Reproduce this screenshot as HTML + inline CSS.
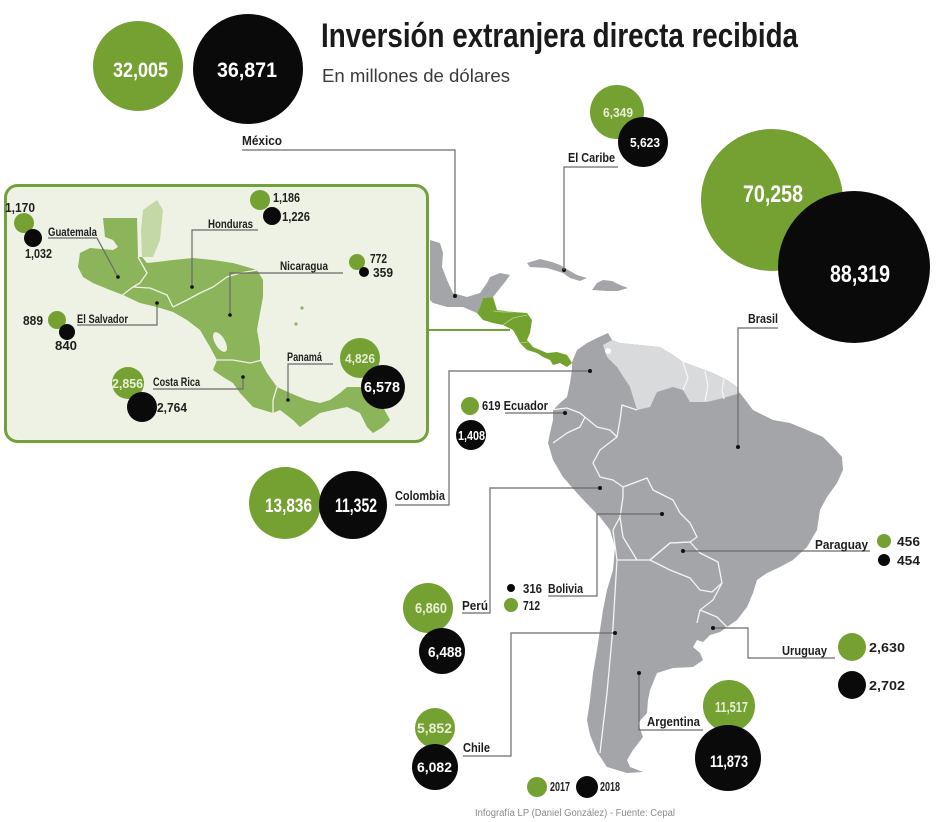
<!DOCTYPE html>
<html><head><meta charset="utf-8">
<style>
html,body{margin:0;padding:0;background:#fff;}
svg{display:block;}
.c{font-family:"Liberation Sans Narrow","Liberation Sans",sans-serif;font-weight:bold;}
.lb{font-family:"Liberation Sans Narrow","Liberation Sans",sans-serif;font-weight:bold;fill:#1e1e1e;font-size:13px;}
.ls{font-family:"Liberation Sans Narrow","Liberation Sans",sans-serif;font-weight:bold;fill:#1e1e1e;font-size:11.5px;}
.w{fill:#fff;}
.ld{fill:none;stroke:#6a6a6a;stroke-width:1.2;}
.bd{fill:none;stroke:#f4f4f4;stroke-width:1.3;stroke-linejoin:round;}
.ibd{fill:none;stroke:#eef2e4;stroke-width:1.3;stroke-linejoin:round;}
</style></head>
<body>
<svg width="950" height="822" viewBox="0 0 950 822" xmlns="http://www.w3.org/2000/svg">
<rect width="950" height="822" fill="#fff"/>

<!-- Title -->
<text class="c" x="321" y="47" font-size="34" fill="#1a1a1a" textLength="477" lengthAdjust="spacingAndGlyphs">Inversión extranjera directa recibida</text>
<text x="322" y="82" font-family="Liberation Sans, sans-serif" font-size="18" fill="#3a3a3a" textLength="188" lengthAdjust="spacingAndGlyphs">En millones de dólares</text>

<!-- Mexico circles -->
<circle cx="138" cy="66" r="45" fill="#75a133"/>
<circle cx="248" cy="69" r="55" fill="#0a0a0a"/>
<text class="c w" x="113" y="77" font-size="21" textLength="55" lengthAdjust="spacingAndGlyphs">32,005</text>
<text class="c w" x="217" y="77" font-size="21" textLength="60" lengthAdjust="spacingAndGlyphs">36,871</text>

<!-- Mexico label & leader -->
<text class="lb" x="242" y="145" textLength="40" lengthAdjust="spacingAndGlyphs">México</text>
<polyline class="ld" points="242,150 455,150 455,296"/>

<!-- Mexico shape -->
<polygon fill="#a4a5a9" points="430,240 440,243 443,253 442,267 447,280 453,293 467,297 480,293 487,283 490,277 500,273 510,275 505,282 497,292 493,297 483,298 480,307 477,313 463,307 447,307 433,303 430,300"/>
<circle cx="455" cy="296" r="2" fill="#111"/>

<!-- Caribbean islands -->
<polygon fill="#a4a5a9" points="527,263 540,259 552,262 560,265 570,271 577,275 587,278 580,281 570,278 563,273 547,268 530,267"/>
<polygon fill="#a4a5a9" points="597,283 603,280 612,281 620,285 628,288 618,291 607,291 592,290"/>
<circle cx="564" cy="270" r="2" fill="#111"/>
<polyline class="ld" points="564,270 564,167 618,167"/>
<text class="lb" x="568" y="162" textLength="47" lengthAdjust="spacingAndGlyphs">El Caribe</text>
<circle cx="617" cy="112" r="27" fill="#75a133"/>
<circle cx="643" cy="142" r="25" fill="#0a0a0a"/>
<text class="c" x="603" y="117" font-size="13" fill="#e6efd6" textLength="30" lengthAdjust="spacingAndGlyphs">6,349</text>
<text class="c w" x="630" y="147" font-size="13" textLength="30" lengthAdjust="spacingAndGlyphs">5,623</text>

<!-- Central America small (main map) -->
<polygon fill="#74a22f" points="483,298 493,297 497,310 513,312 527,313 532,320 530,333 527,340 533,347 547,353 557,352 567,355 572,363 567,367 560,363 553,365 550,360 543,357 537,353 527,350 520,343 517,337 513,330 503,325 493,323 483,320 477,313 480,307"/>
<polyline fill="none" stroke="#b9d396" stroke-width="0.8" points="493,311 503,312 513,312"/>
<polyline fill="none" stroke="#b9d396" stroke-width="0.8" points="503,325 513,318 527,315"/>
<polyline fill="none" stroke="#b9d396" stroke-width="0.8" points="520,343 528,342"/>

<!-- South America -->
<polygon fill="#a4a5a9" points="572,362 577,350 587,343 597,338 608,333 612,340 620,343 640,345 660,347 673,355 683,362 697,367 713,373 727,380 737,387 740,393 753,410 773,420 790,423 807,430 823,437 833,447 842,457 843,470 837,483 827,497 820,510 817,530 807,547 793,560 780,567 767,573 757,580 753,593 747,607 737,620 727,627 720,632 710,635 703,642 697,640 693,647 700,653 703,660 693,667 673,668 657,673 650,690 648,700 647,713 638,723 643,737 633,750 627,760 630,767 643,772 627,773 607,767 597,752 590,735 587,720 590,700 593,673 597,650 600,630 603,610 607,590 613,570 615,547 610,530 600,517 590,507 577,493 563,477 553,460 548,443 550,433 553,420 553,410 560,403 567,397 570,383 572,370"/>
<!-- Venezuela & Guianas -->
<polygon fill="#d9dadc" points="603,345 612,340 620,343 640,345 660,347 673,355 683,362 697,367 713,373 727,380 737,387 740,393 727,397 707,402 690,402 683,390 673,387 657,392 650,407 637,410 630,387 617,367 607,357"/>
<circle cx="608" cy="351" r="3" fill="#fff"/>
<g class="bd">
<polyline points="683,362 688,378 683,390"/>
<polyline points="705,371 708,386 705,401"/>
<polyline points="724,379 722,390 724,399"/>
<polyline points="637,410 622,405 620,420 617,437"/>
<polyline points="550,410 567,408 580,413 597,427 610,430 617,437"/>
<polyline points="553,443 567,433 580,427 585,417"/>
<polyline points="617,437 600,450 593,463 600,477 613,480 623,487"/>
<polyline points="623,487 647,478 653,490 673,500 680,513 690,523 697,537 690,542 670,543 650,560 637,560 623,537 620,517 623,497 623,487"/>
<polyline points="620,517 613,530"/>
<polyline points="650,560 670,543 690,542 700,553 718,562 722,583 712,592 700,590 690,578 670,570 650,560"/>
<polyline points="722,583 713,600 700,610 697,623"/>
<polyline points="700,610 717,617 727,627"/>
<polyline points="613,530 617,560 615,593 613,627 610,660 607,693 603,727 600,753"/>
<polyline points="637,560 617,560"/>
</g>

<!-- Inset box -->
<rect x="5.5" y="185.5" width="422" height="256" rx="12" ry="12" fill="#eef2e4" stroke="#72a03a" stroke-width="3"/>
<line x1="428" y1="330" x2="510" y2="330" stroke="#72a03a" stroke-width="2"/>

<!-- Inset map -->
<polygon fill="#8cb45a" points="103,218 137,218 138,257 142,257 147,263 157,262 173,260 193,258 213,260 233,263 247,267 257,270 263,280 263,297 260,313 257,330 260,347 260,360 267,373 277,387 290,393 307,400 320,403 330,400 340,393 347,387 360,387 373,393 383,407 390,420 383,427 373,433 367,427 360,413 347,407 333,410 320,413 310,420 300,427 293,420 280,410 273,413 263,410 253,407 240,393 233,383 223,377 213,370 217,360 210,347 200,330 187,320 173,312 157,307 140,303 123,295 110,290 93,283 83,277 78,267 80,253 90,248 113,250 118,247 113,240 105,237"/>
<polygon fill="#c3d8a4" points="143,210 157,200 163,210 160,240 153,257 142,257 141,230"/>
<ellipse cx="220" cy="342" rx="5" ry="11" transform="rotate(-30 220 342)" fill="#eef2e4"/>
<circle cx="302" cy="308" r="1.6" fill="#8cb45a"/>
<circle cx="296" cy="324" r="1.6" fill="#8cb45a"/>
<g class="ibd">
<polyline points="138,257 147,273 140,283 133,287 120,297"/>
<polyline points="133,287 150,288 167,295 173,307"/>
<polyline points="173,307 187,300 200,293 213,287 227,277 240,273 257,270"/>
<polyline points="217,360 233,360 250,363 262,360"/>
<polyline points="273,413 273,400 277,387"/>
</g>

<!-- Inset leaders -->
<polyline class="ld" points="48,238 97,238 118,277"/>
<circle cx="118" cy="277" r="1.8" fill="#111"/>
<polyline class="ld" points="258,230 192,230 192,287"/>
<circle cx="192" cy="287" r="1.8" fill="#111"/>
<polyline class="ld" points="343,273 230,273 230,315"/>
<circle cx="230" cy="315" r="1.8" fill="#111"/>
<polyline class="ld" points="77,325 157,325 157,303"/>
<circle cx="157" cy="303" r="1.8" fill="#111"/>
<polyline class="ld" points="153,389 243,389 243,377"/>
<circle cx="243" cy="377" r="1.8" fill="#111"/>
<polyline class="ld" points="333,364 288,364 288,400"/>
<circle cx="288" cy="400" r="1.8" fill="#111"/>

<!-- Inset labels -->
<text class="ls" x="48" y="236" textLength="49" lengthAdjust="spacingAndGlyphs">Guatemala</text>
<text class="ls" x="208" y="228" textLength="45" lengthAdjust="spacingAndGlyphs">Honduras</text>
<text class="ls" x="280" y="270" textLength="48" lengthAdjust="spacingAndGlyphs">Nicaragua</text>
<text class="ls" x="77" y="323" textLength="51" lengthAdjust="spacingAndGlyphs">El Salvador</text>
<text class="ls" x="153" y="386" textLength="47" lengthAdjust="spacingAndGlyphs">Costa Rica</text>
<text class="ls" x="287" y="361" textLength="35" lengthAdjust="spacingAndGlyphs">Panamá</text>

<!-- Inset circles -->
<circle cx="24" cy="223" r="10" fill="#75a133"/>
<circle cx="33" cy="238" r="9" fill="#0a0a0a"/>
<text class="lb" x="5" y="212" textLength="30" lengthAdjust="spacingAndGlyphs">1,170</text>
<text class="lb" x="25" y="258" textLength="27" lengthAdjust="spacingAndGlyphs">1,032</text>

<circle cx="260" cy="200" r="10" fill="#75a133"/>
<circle cx="272" cy="216" r="9" fill="#0a0a0a"/>
<text class="lb" x="273" y="202" textLength="27" lengthAdjust="spacingAndGlyphs">1,186</text>
<text class="lb" x="282" y="221" textLength="28" lengthAdjust="spacingAndGlyphs">1,226</text>

<circle cx="357" cy="262" r="8" fill="#75a133"/>
<circle cx="364" cy="272" r="5" fill="#0a0a0a"/>
<text class="lb" x="370" y="263" textLength="17" lengthAdjust="spacingAndGlyphs">772</text>
<text class="lb" x="373" y="277" textLength="20" lengthAdjust="spacingAndGlyphs">359</text>

<circle cx="57" cy="320" r="9" fill="#75a133"/>
<circle cx="67" cy="332" r="8" fill="#0a0a0a"/>
<text class="lb" x="23" y="325" textLength="20" lengthAdjust="spacingAndGlyphs">889</text>
<text class="lb" x="55" y="350" textLength="22" lengthAdjust="spacingAndGlyphs">840</text>

<circle cx="128" cy="383" r="16" fill="#75a133"/>
<circle cx="142" cy="407" r="15" fill="#0a0a0a"/>
<text class="c" x="112" y="388" font-size="13" fill="#e6efd6" textLength="31" lengthAdjust="spacingAndGlyphs">2,856</text>
<text class="lb" x="157" y="412" textLength="30" lengthAdjust="spacingAndGlyphs">2,764</text>

<circle cx="360" cy="358" r="20" fill="#75a133"/>
<circle cx="383" cy="387" r="22" fill="#0a0a0a"/>
<text class="c" x="345" y="363" font-size="13" fill="#e6efd6" textLength="30" lengthAdjust="spacingAndGlyphs">4,826</text>
<text class="c w" x="364" y="392" font-size="15" textLength="36" lengthAdjust="spacingAndGlyphs">6,578</text>

<!-- Brasil -->
<circle cx="772" cy="200" r="71" fill="#75a133"/>
<circle cx="854" cy="267" r="76" fill="#0a0a0a"/>
<text class="c w" x="743" y="202" font-size="24" textLength="60" lengthAdjust="spacingAndGlyphs">70,258</text>
<text class="c w" x="830" y="282" font-size="24" textLength="60" lengthAdjust="spacingAndGlyphs">88,319</text>
<polyline class="ld" points="778,328 738,328 738,447"/>
<circle cx="738" cy="447" r="2" fill="#111"/>
<text class="lb" x="748" y="323" textLength="30" lengthAdjust="spacingAndGlyphs">Brasil</text>

<!-- Ecuador -->
<circle cx="470" cy="406" r="9" fill="#75a133"/>
<circle cx="471" cy="435" r="15" fill="#0a0a0a"/>
<text class="lb" x="482" y="410" textLength="66" lengthAdjust="spacingAndGlyphs">619 Ecuador</text>
<polyline class="ld" points="505,413 565,413"/>
<circle cx="565" cy="413" r="2" fill="#111"/>
<text class="c w" x="458" y="440" font-size="13" textLength="27" lengthAdjust="spacingAndGlyphs">1,408</text>

<!-- Colombia -->
<circle cx="285" cy="503" r="36" fill="#75a133"/>
<circle cx="353" cy="505" r="34" fill="#0a0a0a"/>
<text class="c w" x="265" y="512" font-size="19" textLength="47" lengthAdjust="spacingAndGlyphs">13,836</text>
<text class="c w" x="335" y="512" font-size="19" textLength="42" lengthAdjust="spacingAndGlyphs">11,352</text>
<polyline class="ld" points="590,371 449,371 449,505 395,505"/>
<circle cx="590" cy="371" r="2" fill="#111"/>
<text class="lb" x="395" y="500" textLength="50" lengthAdjust="spacingAndGlyphs">Colombia</text>

<!-- Peru -->
<circle cx="428" cy="608" r="25" fill="#75a133"/>
<circle cx="442" cy="651" r="23" fill="#0a0a0a"/>
<text class="c" x="415" y="613" font-size="15" fill="#e6efd6" textLength="32" lengthAdjust="spacingAndGlyphs">6,860</text>
<text class="c w" x="428" y="657" font-size="15" textLength="34" lengthAdjust="spacingAndGlyphs">6,488</text>
<polyline class="ld" points="600,488 490,488 490,613 462,613"/>
<circle cx="600" cy="488" r="2" fill="#111"/>
<text class="lb" x="462" y="610" textLength="26" lengthAdjust="spacingAndGlyphs">Perú</text>

<!-- Bolivia -->
<circle cx="511" cy="588" r="4" fill="#0a0a0a"/>
<circle cx="511" cy="605" r="7" fill="#75a133"/>
<text class="lb" x="523" y="593" textLength="19" lengthAdjust="spacingAndGlyphs">316</text>
<text class="lb" x="548" y="593" textLength="35" lengthAdjust="spacingAndGlyphs">Bolivia</text>
<text class="lb" x="523" y="610" textLength="17" lengthAdjust="spacingAndGlyphs">712</text>
<polyline class="ld" points="662,514 597,514 597,596 548,596"/>
<circle cx="662" cy="514" r="2" fill="#111"/>

<!-- Paraguay -->
<polyline class="ld" points="683,551 870,551"/>
<circle cx="683" cy="551" r="2" fill="#111"/>
<text class="lb" x="815" y="549" textLength="53" lengthAdjust="spacingAndGlyphs">Paraguay</text>
<circle cx="884" cy="541" r="7" fill="#75a133"/>
<circle cx="884" cy="560" r="6" fill="#0a0a0a"/>
<text class="lb" x="897" y="546" textLength="23" lengthAdjust="spacingAndGlyphs">456</text>
<text class="lb" x="897" y="565" textLength="23" lengthAdjust="spacingAndGlyphs">454</text>

<!-- Uruguay -->
<polyline class="ld" points="713,628 748,628 748,658 835,658"/>
<circle cx="713" cy="628" r="2" fill="#111"/>
<text class="lb" x="782" y="655" textLength="45" lengthAdjust="spacingAndGlyphs">Uruguay</text>
<circle cx="852" cy="647" r="14" fill="#75a133"/>
<circle cx="852" cy="685" r="14" fill="#0a0a0a"/>
<text class="lb" x="869" y="652" textLength="36" lengthAdjust="spacingAndGlyphs">2,630</text>
<text class="lb" x="869" y="690" textLength="36" lengthAdjust="spacingAndGlyphs">2,702</text>

<!-- Argentina -->
<polyline class="ld" points="639,673 639,730 703,730"/>
<circle cx="639" cy="673" r="2" fill="#111"/>
<text class="lb" x="647" y="726" textLength="53" lengthAdjust="spacingAndGlyphs">Argentina</text>
<circle cx="729" cy="706" r="26" fill="#75a133"/>
<circle cx="728" cy="758" r="33" fill="#0a0a0a"/>
<text class="c" x="715" y="712" font-size="15" fill="#e6efd6" textLength="33" lengthAdjust="spacingAndGlyphs">11,517</text>
<text class="c w" x="710" y="767" font-size="17" textLength="38" lengthAdjust="spacingAndGlyphs">11,873</text>

<!-- Chile -->
<polyline class="ld" points="615,633 511,633 511,756 463,756"/>
<circle cx="615" cy="633" r="2" fill="#111"/>
<text class="lb" x="463" y="752" textLength="27" lengthAdjust="spacingAndGlyphs">Chile</text>
<circle cx="435" cy="728" r="20" fill="#75a133"/>
<circle cx="435" cy="767" r="23" fill="#0a0a0a"/>
<text class="c" x="417" y="733" font-size="14" fill="#e6efd6" textLength="35" lengthAdjust="spacingAndGlyphs">5,852</text>
<text class="c w" x="417" y="772" font-size="14" textLength="35" lengthAdjust="spacingAndGlyphs">6,082</text>

<!-- Legend -->
<circle cx="537" cy="787" r="10" fill="#75a133"/>
<text class="lb" x="550" y="791" font-size="11" textLength="20" lengthAdjust="spacingAndGlyphs">2017</text>
<circle cx="587" cy="787" r="11" fill="#0a0a0a"/>
<text class="lb" x="600" y="791" font-size="11" textLength="20" lengthAdjust="spacingAndGlyphs">2018</text>

<!-- Footer -->
<text x="475" y="816" font-family="Liberation Sans, sans-serif" font-size="10" fill="#8a8a8a" textLength="200" lengthAdjust="spacingAndGlyphs">Infografía LP (Daniel González) - Fuente: Cepal</text>
</svg>
</body></html>
